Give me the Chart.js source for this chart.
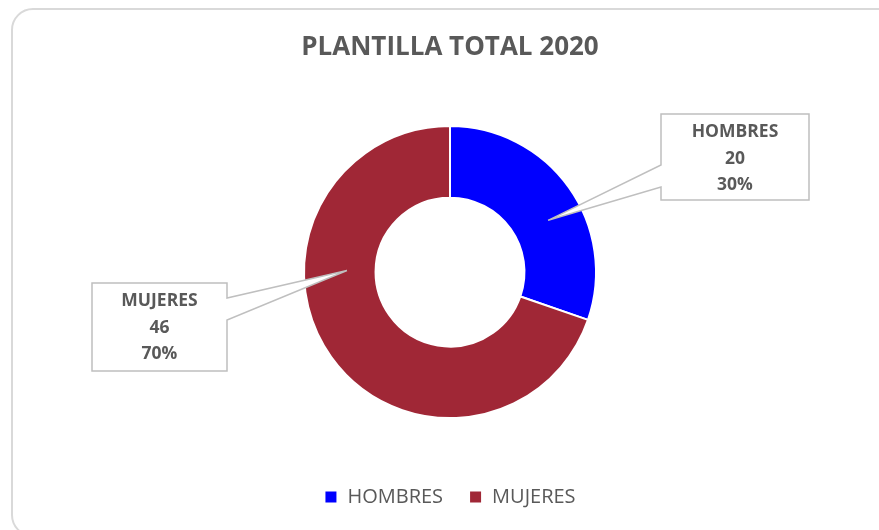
<!DOCTYPE html>
<html lang="es">
<head>
    <meta charset="UTF-8">
    <title>Plantilla total 2020</title>
    <style>
        body { margin: 0; background: #fff; overflow: hidden; }
        .marco {
            position: absolute; left: 11px; top: 8px;
            width: 890px; height: 525px;
            border: 2px solid #d9d9d9; border-radius: 22px;
        }
        #graficoPlantilla { position: absolute; left: 0; top: 0; }
    </style>
</head>
<body>
    <div class="marco"></div>
    <canvas id="graficoPlantilla" width="879" height="530"></canvas>

<script src="https://cdn.jsdelivr.net/npm/chart.js"></script>
<script>
    const categorias = ['HOMBRES', 'MUJERES']
    const empleados = [20, 46]
    const colores = ['#0000ff', '#a02736']

    // cajas de las etiquetas (posición en pixeles y donde sale la flecha)
    const cajas = [
        { x: 661, y: 114, w: 148, h: 86, lado: 'izq', pico: [51, 73], fracAng: 0.57, fracRad: 0.51 },
        { x: 92, y: 283, w: 135, h: 88, lado: 'der', pico: [15, 37], fracAng: 0.645, fracRad: 0.40 }
    ]

    const total = empleados.reduce((a, b) => a + b, 0)

    const etiquetasCallout = {
        id: 'etiquetasCallout',
        afterDatasetsDraw(chart) {
            const ctx = chart.ctx
            const meta = chart.getDatasetMeta(0)
            ctx.save()
            meta.data.forEach((arco, i) => {
                const c = cajas[i]
                const p = arco.getProps(['x', 'y', 'startAngle', 'endAngle', 'innerRadius', 'outerRadius'], true)
                const ang = p.startAngle + c.fracAng * (p.endAngle - p.startAngle)
                const r = p.innerRadius + c.fracRad * (p.outerRadius - p.innerRadius)
                const px = p.x + Math.cos(ang) * r
                const py = p.y + Math.sin(ang) * r

                ctx.beginPath()
                if (c.lado == 'izq') {
                    ctx.moveTo(c.x, c.y)
                    ctx.lineTo(c.x + c.w, c.y)
                    ctx.lineTo(c.x + c.w, c.y + c.h)
                    ctx.lineTo(c.x, c.y + c.h)
                    ctx.lineTo(c.x, c.y + c.pico[1])
                    ctx.lineTo(px, py)
                    ctx.lineTo(c.x, c.y + c.pico[0])
                } else {
                    ctx.moveTo(c.x, c.y)
                    ctx.lineTo(c.x + c.w, c.y)
                    ctx.lineTo(c.x + c.w, c.y + c.pico[0])
                    ctx.lineTo(px, py)
                    ctx.lineTo(c.x + c.w, c.y + c.pico[1])
                    ctx.lineTo(c.x + c.w, c.y + c.h)
                    ctx.lineTo(c.x, c.y + c.h)
                }
                ctx.closePath()
                ctx.fillStyle = '#ffffff'
                ctx.fill()
                ctx.strokeStyle = '#bfbfbf'
                ctx.lineWidth = 1.5
                ctx.stroke()

                const pct = Math.round(empleados[i] / total * 100) + '%'
                const lineas = [categorias[i], String(empleados[i]), pct]
                ctx.fillStyle = '#595959'
                ctx.font = 'bold 17.5px "Open Sans"'
                ctx.textAlign = 'center'
                ctx.textBaseline = 'middle'
                lineas.forEach((t, j) => {
                    ctx.fillText(t, c.x + c.w / 2, c.y + 18.5 + j * 26.5)
                })
            })
            ctx.restore()
        }
    }

    new Chart(document.getElementById('graficoPlantilla'), {
        type: 'doughnut',
        data: {
            labels: categorias,
            datasets: [{
                data: empleados,
                backgroundColor: colores,
                borderColor: '#ffffff',
                borderWidth: 2,
                hoverBorderWidth: 2,
                hoverOffset: 0
            }]
        },
        options: {
            responsive: false,
            animation: false,
            cutout: '51%',
            radius: 146,
            layout: { padding: { left: 21, right: 0, top: 0, bottom: 13 } },
            plugins: {
                title: {
                    display: true,
                    text: 'PLANTILLA TOTAL 2020',
                    color: '#595959',
                    font: { family: 'Open Sans', size: 26, weight: 'bold' },
                    padding: { top: 32, bottom: 20 }
                },
                legend: {
                    position: 'bottom',
                    labels: {
                        color: '#595959',
                        font: { family: 'Open Sans', size: 20 },
                        boxWidth: 13,
                        boxHeight: 13,
                        padding: 26
                    }
                },
                tooltip: { enabled: false }
            }
        },
        plugins: [etiquetasCallout]
    })
</script>
</body>
</html>
